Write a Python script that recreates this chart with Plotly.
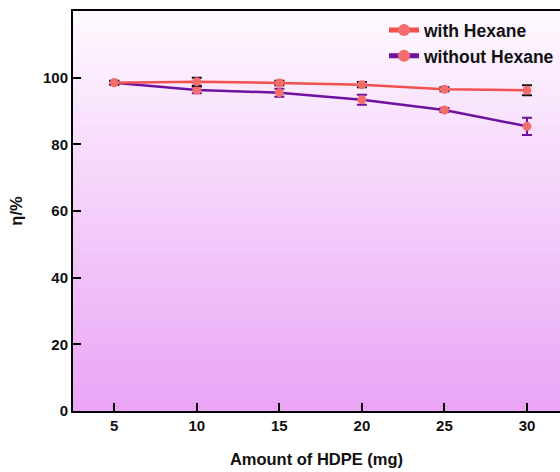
import plotly.graph_objects as go

amount_mg = [5, 10, 15, 20, 25, 30]
eta_with_hexane = [98.5, 98.8, 98.4, 97.9, 96.5, 96.2]
err_with_hexane = [0.6, 1.2, 0.7, 0.8, 0.6, 1.5]
eta_without_hexane = [98.5, 96.3, 95.5, 93.4, 90.3, 85.4]
err_without_hexane = [0.5, 1.0, 1.2, 1.5, 0.6, 2.6]
y_ticks = [0, 20, 40, 60, 80, 100]
x_ticks = [5, 10, 15, 20, 25, 30]

font_family = "Liberation Sans, Arial, sans-serif"

fig = go.Figure()

# gradient background bands (decoration only)
n_bands = 60
top_c = (254, 249, 255)
bot_c = (234, 164, 246)
for i in range(n_bands):
    t0 = i / n_bands
    t1 = (i + 1) / n_bands
    f = (t0 + t1) / 2  # 0 at bottom, 1 at top
    c = tuple(round(bot_c[k] + (top_c[k] - bot_c[k]) * f) for k in range(3))
    fig.add_shape(type="rect", xref="x domain", yref="y domain",
                  x0=0, x1=1, y0=t0, y1=t1 + 0.002,
                  fillcolor=f"rgb{c}", line=dict(width=0), layer="below")

fig.add_trace(go.Scatter(
    x=amount_mg, y=eta_without_hexane, name="without Hexane",
    mode="lines+markers",
    line=dict(color="#6f119f", width=2.5),
    marker=dict(color="#f26d6b", size=9),
    error_y=dict(type="data", array=err_without_hexane, color="#6f119f",
                 thickness=2, width=5),
    showlegend=False,
))
fig.add_trace(go.Scatter(
    x=amount_mg, y=eta_with_hexane, name="with Hexane",
    mode="lines+markers",
    line=dict(color="#f0514f", width=2.5),
    marker=dict(color="#f26d6b", size=9),
    error_y=dict(type="data", array=err_with_hexane, color="#111111",
                 thickness=2, width=5),
))
# legend entries in reference order
fig.add_trace(go.Scatter(
    x=[None], y=[None], name="without Hexane", mode="lines+markers",
    line=dict(color="#6f119f", width=2.5),
    marker=dict(color="#f26d6b", size=9),
))

fig.update_layout(
    width=560, height=472,
    margin=dict(l=73, r=0, t=11, b=61, autoexpand=False),
    paper_bgcolor="white",
    plot_bgcolor="rgba(0,0,0,0)",
    font=dict(family=font_family, size=15, color="#111111"),
    legend=dict(x=1, y=0.997, xanchor="right", yanchor="top",
                bgcolor="rgba(255,255,255,0)",
                font=dict(size=17.5, family=font_family, weight="bold"),
                tracegroupgap=0, itemsizing="constant"),
    showlegend=True,
)
fig.update_xaxes(
    range=[2.5, 32], tickvals=x_ticks, ticktext=[str(v) for v in x_ticks],
    showline=True, linecolor="black", linewidth=2, mirror=True,
    ticks="inside", ticklen=8, tickwidth=2, tickcolor="black",
    showgrid=False, zeroline=False, automargin=False,
    tickfont=dict(size=15, family=font_family, weight="bold"),
    title=dict(text="<b>Amount of HDPE (mg)</b>", font=dict(size=16.5), standoff=20),
)
fig.update_yaxes(
    range=[0, 120], tickvals=y_ticks,
    showline=True, linecolor="black", linewidth=2, mirror=False,
    ticks="inside", ticklen=8, tickwidth=2, tickcolor="black",
    showgrid=False, zeroline=False, automargin=False,
    tickfont=dict(size=15, family=font_family, weight="bold"),
    title=dict(text="<b>η/%</b>", font=dict(size=16.5), standoff=16),
)

fig.write_html(
    "out.html",
    config={"displayModeBar": False},
    post_script="document.body.style.margin='0';document.body.style.overflow='hidden';",
)
